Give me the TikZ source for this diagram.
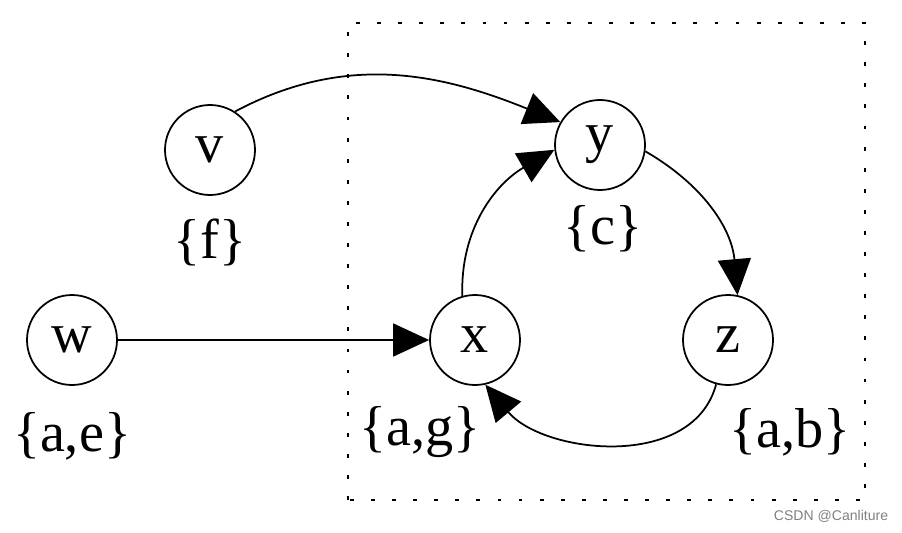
\documentclass[tikz,border=0pt]{standalone}
\usepackage{fontspec}
\setmainfont{Liberation Serif}
\setsansfont{Liberation Sans}
\usetikzlibrary{arrows.meta}
\usetikzlibrary{shapes, positioning}

\begin{document}
\begin{tikzpicture}[
    vert/.style={circle, draw, line width=1pt, minimum size=1.8cm, inner sep=0pt, font=\fontsize{32}{34}\selectfont},
    setlbl/.style={font=\fontsize{32}{34}\selectfont},
    link/.style={line width=1pt, -{Triangle[length=0.72cm, width=0.66cm]}}
]
    \useasboundingbox (0,0) rectangle (18.04,10.64);

    % Define nodes
    \node[vert] (v) at (4.2,7.64) {v};
    \node[vert] (y) at (12.0,7.74) {y};
    \node[vert] (w) at (1.44,3.84) {w};
    \node[vert] (x) at (9.5,3.84) {x};
    \node[vert] (z) at (14.56,3.84) {z};

    % Sets under the nodes
    \node[setlbl] (fset) at (4.2,5.8) {\{f\}};
    \node[setlbl] (cset) at (12.06,6.06) {\{c\}};
    \node[setlbl] (aeset) at (1.44,1.92) {\{a,e\}};
    \node[setlbl] (agset) at (8.4,2.0) {\{a,g\}};
    \node[setlbl] (abset) at (15.8,2.0) {\{a,b\}};

    % Dotted frame
    \draw[line width=0.9pt, dash pattern=on 2.2pt off 9.8pt] (6.96,0.64) rectangle (17.3,10.18);

    % Connect nodes with arrows
    \draw[link] (v.57) to[out=28, in=158] (y.150);
    \draw[link] (y.-8) to[out=-30, in=95] (z.78);
    \draw[link] (z.-105) to[out=-105, in=-50] (x.-77);
    \draw[link] (x.106) to[out=92, in=-150] (y.186);
    \draw[link] (w) -- (x);

    \node[font=\sffamily\fontsize{8}{9}\selectfont, text=gray] (mark) at (16.62,0.32) {CSDN @Canliture};
\end{tikzpicture}
\end{document}
